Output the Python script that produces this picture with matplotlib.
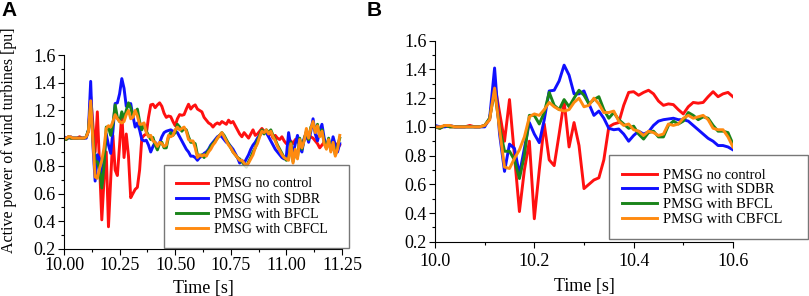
import matplotlib
matplotlib.use('Agg')
import matplotlib.pyplot as plt
from matplotlib.ticker import MultipleLocator, FormatStrFormatter
import numpy as np

# sampled every 10 ms, 10.00 s .. 11.24 s
t_start = 10.0
dt = 0.01

p_no_control = [
    1.00, 0.99, 1.01, 1.00, 1.00, 1.00, 1.00, 1.01, 1.00, 1.00, 1.01,
    1.05, 1.30, 1.10, 0.90, 1.19, 0.80, 0.41, 0.70, 0.90, 0.36,
    0.70, 1.02, 0.77, 0.73, 0.95, 1.18, 0.86, 1.03, 0.87, 0.57,
    0.60, 0.63, 0.645, 0.77, 1.00, 1.02, 1.03, 1.15, 1.24, 1.245,
    1.22, 1.24, 1.255, 1.23, 1.18, 1.15, 1.16, 1.155, 1.12, 1.09,
    1.14, 1.17, 1.165, 1.17, 1.21, 1.245, 1.21, 1.23, 1.24, 1.21,
    1.20, 1.19, 1.15, 1.13, 1.11, 1.10, 1.08, 1.10, 1.11, 1.10,
    1.12, 1.11, 1.10, 1.13, 1.11, 1.12, 1.09, 1.06, 1.03, 1.01,
    1.04, 1.02, 1.00, 1.03, 1.06, 1.02, 1.03, 1.05, 1.07, 1.05,
    1.04, 1.02, 1.04, 1.00, 1.02, 1.00, 0.99, 1.01, 0.98, 0.96,
    0.97, 0.98, 0.96, 0.99, 0.97, 0.98, 0.96, 0.99, 1.00, 1.02,
    1.01, 1.00, 0.98, 0.96, 0.93, 0.95, 0.97, 0.95, 0.96, 0.94,
    0.93, 0.95, 0.96, 0.95,
]
p_sdbr = [
    1.01, 1.00, 1.00, 1.01, 1.00, 1.00, 1.00, 1.00, 1.00, 1.00, 1.00,
    1.06, 1.41, 0.95, 0.69, 0.88, 0.85, 0.67, 0.85, 1.03, 0.95,
    0.89, 1.05, 1.25, 1.255, 1.32, 1.43, 1.36, 1.23, 1.23, 1.25,
    1.16, 1.08, 1.11, 1.06, 0.99, 0.98, 0.985, 0.95, 0.90, 0.94,
    0.97, 0.95, 0.965, 1.01, 1.04, 1.05, 1.055, 1.06, 1.05, 1.05,
    1.04, 1.01, 0.98, 0.95, 0.92, 0.90, 0.87, 0.87, 0.86, 0.84,
    0.86, 0.87, 0.89, 0.90, 0.92, 0.95, 0.97, 0.99, 1.01, 1.02,
    1.01, 0.99, 0.97, 0.96, 0.94, 0.92, 0.89, 0.86, 0.82, 0.84,
    0.82, 0.85, 0.88, 0.92, 0.95, 0.97, 1.00, 1.02, 1.04, 1.05,
    1.04, 1.01, 0.98, 0.95, 0.92, 0.90, 0.88, 0.86, 0.85, 0.87,
    1.04, 0.94, 0.88, 0.96, 1.02, 0.93, 0.90, 1.00, 1.04, 0.97,
    1.05, 1.14, 1.03, 0.98, 1.05, 1.10, 1.00, 0.94, 0.98, 0.92,
    1.01, 0.95, 0.90, 0.96,
]
p_bfcl = [
    1.00, 0.99, 1.01, 1.00, 1.00, 1.00, 1.00, 1.00, 1.00, 1.00, 1.01,
    1.06, 1.25, 1.00, 0.83, 0.83, 0.77, 0.64, 0.80, 1.08, 1.08,
    1.02, 1.10, 1.24, 1.15, 1.12, 1.19, 1.14, 1.20, 1.255, 1.22,
    1.16, 1.19, 1.21, 1.12, 1.06, 1.10, 1.05, 1.02, 0.99, 1.005,
    0.95, 0.915, 0.96, 0.97, 0.93, 0.93, 1.01, 1.04, 1.02, 1.04,
    1.10, 1.08, 1.05, 1.07, 1.06, 1.01, 0.97, 0.97, 0.96, 0.88,
    0.87, 0.88, 0.86, 0.89, 0.91, 0.94, 0.96, 0.98, 1.00, 1.02,
    1.04, 1.02, 0.99, 0.96, 0.93, 0.90, 0.88, 0.86, 0.85, 0.83,
    0.81, 0.79, 0.83, 0.86, 0.90, 0.93, 0.98, 1.02, 1.06, 1.03,
    1.06, 1.04, 1.06, 1.02, 0.99, 0.95, 0.92, 0.89, 0.86, 0.84,
    0.85, 0.97, 0.83, 0.90, 0.86, 1.00, 0.92, 0.99, 1.05, 0.99,
    1.08, 1.10, 1.05, 1.10, 1.02, 1.06, 0.97, 0.93, 1.00, 0.91,
    0.96, 0.88, 0.94, 1.00,
]
p_cbfcl = [
    1.00, 1.00, 1.01, 1.01, 1.00, 1.00, 1.00, 1.00, 1.00, 1.00, 1.01,
    1.05, 1.27, 0.98, 0.72, 0.71, 0.78, 0.84, 0.93, 1.07, 1.09,
    1.08, 1.12, 1.17, 1.14, 1.12, 1.11, 1.12, 1.17, 1.20, 1.14,
    1.15, 1.20, 1.16, 1.10, 1.10, 1.11, 1.04, 1.01, 1.02, 0.98,
    0.97, 0.94, 0.97, 0.96, 0.94, 0.95, 1.02, 1.01, 1.02, 1.06,
    1.08, 1.06, 1.07, 1.08, 1.05, 0.99, 0.98, 0.98, 0.93, 0.86,
    0.88, 0.87, 0.88, 0.87, 0.90, 0.92, 0.95, 0.97, 1.00, 1.02,
    1.04, 1.01, 0.98, 0.95, 0.93, 0.90, 0.88, 0.86, 0.84, 0.84,
    0.82, 0.80, 0.82, 0.85, 0.88, 0.93, 0.96, 1.01, 1.05, 1.04,
    1.06, 1.03, 1.05, 1.01, 0.98, 0.94, 0.91, 0.88, 0.86, 0.85,
    0.84, 0.96, 0.82, 0.92, 0.85, 0.99, 0.93, 0.98, 1.07, 1.00,
    1.07, 1.12, 1.04, 1.09, 1.01, 1.05, 0.96, 0.92, 0.99, 0.90,
    0.97, 0.87, 0.92, 1.02,
]

labels = ['PMSG no control', 'PMSG with SDBR', 'PMSG with BFCL', 'PMSG with CBFCL']
colors = ['#ff1010', '#1010ff', '#1a841a', '#ff8a10']
series = [p_no_control, p_sdbr, p_bfcl, p_cbfcl]

t = t_start + dt * np.arange(len(p_no_control))
n_b = 61  # panel B stops at 10.60 s

plt.rcParams['font.family'] = ['Liberation Serif', 'DejaVu Serif']

fig = plt.figure(figsize=(8.09, 2.96), dpi=100)
ax_a = fig.add_axes([0.0791, 0.159, 0.3436, 0.655])
ax_b = fig.add_axes([0.5377, 0.1834, 0.3683, 0.679])

for ax, n, tpad, lpad in [(ax_a, len(t), 2, 4), (ax_b, n_b, 4, 6)]:
    for y, c, lab in zip(series, colors, labels):
        ax.plot(t[:n], y[:n], color=c, lw=2.1, label=lab)
    ax.set_ylim(0.2, 1.6)
    ax.yaxis.set_major_locator(MultipleLocator(0.2))
    ax.yaxis.set_minor_locator(MultipleLocator(0.1))
    ax.yaxis.set_major_formatter(FormatStrFormatter('%.1f'))
    ax.spines['top'].set_visible(False)
    ax.spines['right'].set_visible(False)
    ax.tick_params(which='major', length=4, width=0.8, labelsize=13, pad=2)
    ax.tick_params(axis='x', which='major', pad=tpad)
    ax.tick_params(which='minor', length=2.5, width=0.8)
    ax.set_xlabel('Time [s]', fontsize=13, labelpad=lpad)

ax_a.set_xlim(10.0, 11.25)
ax_a.xaxis.set_major_locator(MultipleLocator(0.25))
ax_a.xaxis.set_minor_locator(MultipleLocator(0.125))
ax_a.xaxis.set_major_formatter(FormatStrFormatter('%.2f'))

ax_b.set_xlim(10.0, 10.6)
ax_b.xaxis.set_major_locator(MultipleLocator(0.2))
ax_b.xaxis.set_minor_locator(MultipleLocator(0.1))
ax_b.xaxis.set_major_formatter(FormatStrFormatter('%.1f'))

fig.text(0.011, 0.525, 'Active power of wind turbines [pu]', rotation=90,
         ha='center', va='center', fontsize=11.5)

leg_a = ax_a.legend(loc='center', bbox_to_anchor=(0.2027, 0.172, 0.2287, 0.26),
                    bbox_transform=fig.transFigure, mode='expand', fontsize=10,
                    handlelength=2.3, handletextpad=0.4, labelspacing=0.15,
                    borderpad=0.9, fancybox=False, borderaxespad=0)
leg_b = ax_b.legend(loc='center', bbox_to_anchor=(0.7528, 0.2027, 0.246, 0.2635),
                    bbox_transform=fig.transFigure, mode='expand', fontsize=10.5,
                    handlelength=2.4, handletextpad=0.4, labelspacing=0.1,
                    borderpad=0.9, fancybox=False, borderaxespad=0)
for leg in (leg_a, leg_b):
    leg.get_frame().set_edgecolor('#555555')
    leg.get_frame().set_linewidth(1.0)

fig.text(0.002, 0.995, 'A', fontsize=15, fontweight='bold', va='top',
         family='Liberation Sans')
fig.text(0.4536, 0.995, 'B', fontsize=15, fontweight='bold', va='top',
         family='Liberation Sans')

fig.savefig('out.png', dpi=100)
